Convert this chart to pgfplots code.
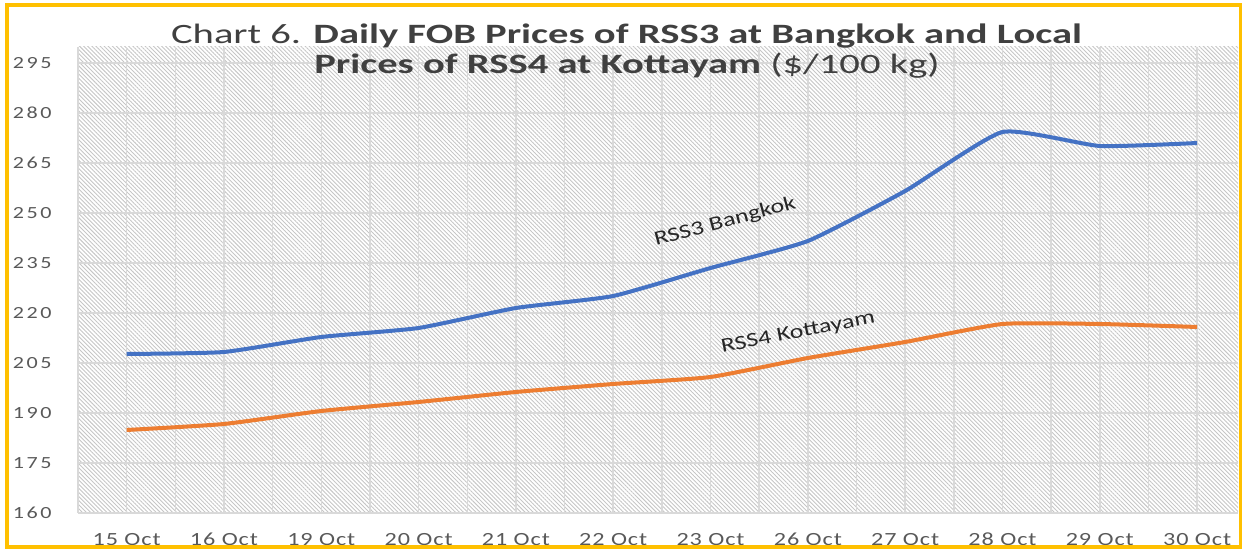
\documentclass[border=0pt]{standalone}
\usepackage{fontspec}
\setmainfont{Carlito}
\newfontfamily\titlefont[FakeStretch=1.45]{Carlito}
\newfontfamily\xtickfont[FakeStretch=1.3,LetterSpace=5]{Carlito}
\newfontfamily\ytickfont[FakeStretch=1.3,LetterSpace=15]{Carlito}
\newfontfamily\labelfont[FakeStretch=1.3]{Carlito}
\usepackage{pgfplots}
\pgfplotsset{compat=1.18}
\usetikzlibrary{patterns.meta}

\definecolor{rssblue}{HTML}{4472C4}
\definecolor{rssorange}{HTML}{ED7D31}
\definecolor{gridgray}{HTML}{D9D9D9}
\definecolor{hatch}{HTML}{C6C6C6}
\definecolor{ticktext}{HTML}{595959}
\definecolor{titletext}{HTML}{404040}
\definecolor{frame}{HTML}{FFC000}

\begin{document}
\begin{tikzpicture}
\begin{axis}[
    at={(39pt,18pt)}, anchor=south west,
    scale only axis,
    width=580pt, height=233pt,
    xmin=-0.5, xmax=11.42,
    ymin=160, ymax=299.8,
    xtick={0,...,11},
    xticklabels={15 Oct,16 Oct,19 Oct,20 Oct,21 Oct,22 Oct,23 Oct,26 Oct,27 Oct,28 Oct,29 Oct,30 Oct},
    minor xtick={-0.5,0.5,...,11.5},
    ytick={160,175,...,295},
    major tick length=0pt, minor tick length=0pt,
    xmajorgrids, xminorgrids, ymajorgrids,
    grid style={draw=gridgray, line width=0.75pt},
    minor grid style={draw=gridgray, line width=0.75pt},
    axis line style={draw=none},
    axis background/.style={pattern={Lines[angle=-45,distance=1.45pt,line width=0.45pt]}, pattern color=hatch},
    /pgf/number format/assume math mode=true,
    xticklabel style={font=\xtickfont\fontsize{9.3}{11}\selectfont, text=ticktext, yshift=-6.5pt},
    yticklabel style={font=\ytickfont\fontsize{8.5}{10}\selectfont, text=ticktext, anchor=east, xshift=-9.7pt},
]
\addplot[rssblue, line width=2pt, smooth, tension=0.3, line join=round] coordinates {
(0,207.7) (1,208.3) (2,212.8) (3,215.5) (4,221.5) (5,225.1)
(6,233.5) (7,241.6) (8,256.6) (9,274.3) (10,270.1) (11,271.0)};
\addplot[rssorange, line width=2pt, smooth, tension=0.3, line join=round] coordinates {
(0,184.9) (1,186.7) (2,190.6) (3,193.3) (4,196.3) (5,198.7)
(6,200.8) (7,206.5) (8,211.3) (9,216.7) (10,216.7) (11,215.8)};
\node[rotate=15, font=\labelfont\fontsize{10}{12}\selectfont, text=black!85] at (axis cs:6.15,247.3) {RSS3 Bangkok};
\node[rotate=11, font=\labelfont\fontsize{10}{12}\selectfont, text=black!85] at (axis cs:6.9,214) {RSS4 Kottayam};
\end{axis}
\node[anchor=base, font=\titlefont\fontsize{14}{16}\selectfont, text=titletext] at (313.25pt,252.5pt) {Chart 6. \textbf{Daily FOB Prices of RSS3 at Bangkok and Local}};
\node[anchor=base, font=\titlefont\fontsize{14}{16}\selectfont, text=titletext] at (313.5pt,237.5pt) {\textbf{Prices of RSS4 at Kottayam} (\$/100 kg)};
\draw[frame, line width=2pt] (3.5pt,0.75pt) rectangle (620.5pt,272pt);
\pgfresetboundingbox
\useasboundingbox (0,0) rectangle (621pt,274.5pt);
\end{tikzpicture}
\end{document}
